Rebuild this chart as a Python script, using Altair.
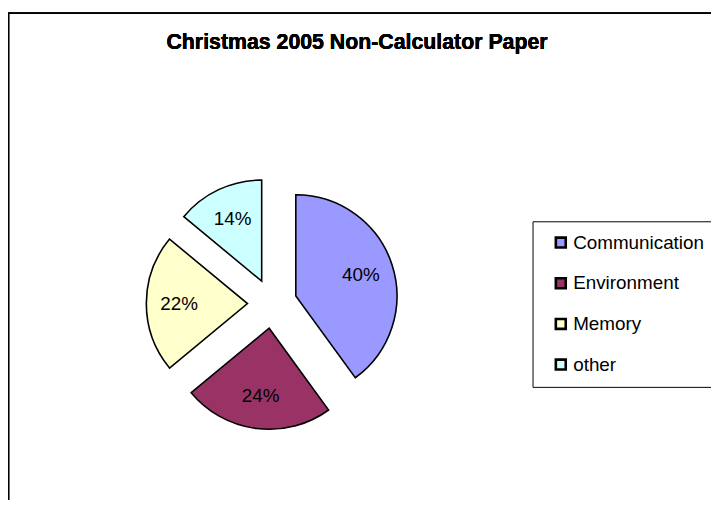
import altair as alt
import pandas as pd

title_text = "Christmas 2005 Non-Calculator Paper"
categories = ["Communication", "Environment", "Memory", "other"]
values = [40, 24, 22, 14]
colors = ["#9999FF", "#993366", "#FFFFCC", "#CCFFFF"]

df = pd.DataFrame({"cat": categories, "value": values, "idx": list(range(len(categories)))})

CX, CY = 266.5, 296     # pie centre (chart coords)
R = 102                 # slice radius
EXPL = 25               # explosion distance
LR = 69                 # label distance from slice apex

base = alt.Chart(df).transform_window(
    cum="sum(value)", sort=[alt.SortField("idx")], frame=[None, 0]
).transform_joinaggregate(
    total="sum(value)"
).transform_calculate(
    mid="(datum.cum - datum.value / 2) / datum.total * 2 * PI",
    ox=f"{CX} + {EXPL} * sin(datum.mid)",
    oy=f"{CY} - {EXPL} * cos(datum.mid)",
    lx=f"{CX} + {EXPL + LR} * sin(datum.mid)",
    ly=f"{CY} - {EXPL + LR} * cos(datum.mid)",
    pct="datum.value + '%'",
)

arcs = base.mark_arc(outerRadius=R, stroke="black", strokeWidth=1.6).encode(
    theta=alt.Theta("value:Q", stack=True),
    order=alt.Order("idx:Q"),
    x=alt.X("ox:Q", scale=None),
    y=alt.Y("oy:Q", scale=None),
    color=alt.Color(
        "cat:N",
        scale=alt.Scale(domain=categories, range=colors),
        legend=alt.Legend(
            title=None, orient="none", legendX=529, legendY=213,
            strokeColor="black", fillColor="white", padding=12,
            symbolType="square", symbolSize=100, symbolStrokeColor="black",
            symbolStrokeWidth=2.6, symbolOffset=7, labelFontSize=19,
            labelFont="Liberation Sans", labelColor="black", labelOffset=3,
            rowPadding=20, labelLimit=400,
            labelExpr="datum.label + '\u00a0\u00a0\u00a0\u00a0\u00a0\u00a0\u00a0\u00a0\u00a0\u00a0'",
        ),
    ),
)

labels = base.mark_text(fontSize=19, font="Liberation Sans", color="black").encode(
    x=alt.X("lx:Q", scale=None),
    y=alt.Y("ly:Q", scale=None),
    text="pct:N",
)

title = alt.Chart(df).mark_text(
    text=title_text, fontSize=21.5, fontWeight="bold", font="Liberation Sans",
    baseline="alphabetic", color="black",
).encode(x=alt.value(352), y=alt.value(39))

border_left = alt.Chart(df).mark_rule(color="black", strokeWidth=1.2).encode(
    x=alt.value(0.6), y=alt.value(3), y2=alt.value(494)
)
border_top = alt.Chart(df).mark_rule(color="black", strokeWidth=1.2).encode(
    x=alt.value(0), x2=alt.value(709), y=alt.value(3)
)

chart = alt.layer(border_left, border_top, arcs, labels, title).properties(
    width=709, height=494,
    autosize=alt.AutoSizeParams(type="none"),
    padding=0,
).configure_view(stroke=None)

chart.save("out.html", embed_options={"renderer": "svg", "actions": False})
